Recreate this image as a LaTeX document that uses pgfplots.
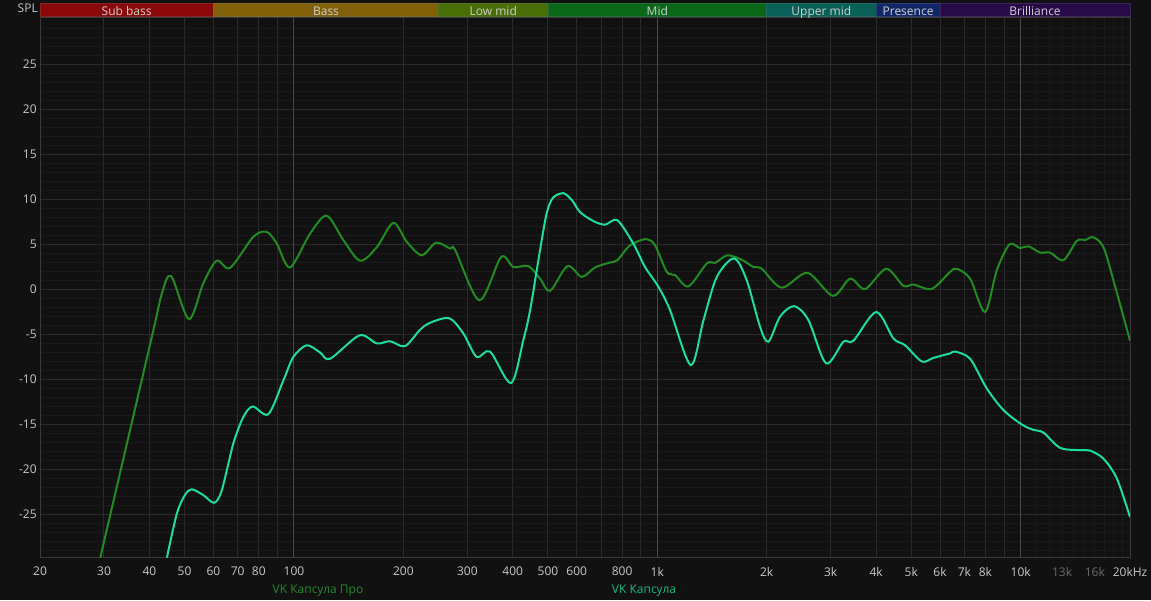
\documentclass[border=0pt]{standalone}
\usepackage{fontspec}
\setmainfont{Open Sans}
\usepackage{pgfplots}
\pgfplotsset{compat=1.18}
\definecolor{bg}{HTML}{111111}
\definecolor{gridmaj}{HTML}{2B2B2B}
\definecolor{gridmin}{HTML}{1A1A1A}
\definecolor{griddec}{HTML}{4A4A4A}
\definecolor{frame}{HTML}{3A3A3A}
\definecolor{txt}{HTML}{C8C8C8}
\definecolor{txtdim}{HTML}{6A6A6A}
\definecolor{bandtxt}{HTML}{D0D0D0}
\definecolor{pro}{HTML}{228B22}
\definecolor{kaps}{HTML}{1CDCA0}
\definecolor{prolab}{HTML}{1F8A2A}
\definecolor{kapslab}{HTML}{18B888}
\definecolor{bSub}{HTML}{8B0808}
\definecolor{bBass}{HTML}{806008}
\definecolor{bLow}{HTML}{486E08}
\definecolor{bMid}{HTML}{086818}
\definecolor{bUpp}{HTML}{086058}
\definecolor{bPre}{HTML}{102868}
\definecolor{bBri}{HTML}{280A48}

\pgfplotstableread{
f dB
29.3 -29.8
40.6 -5.3
43.3 -0.45
45.9 1.5
51.4 -3.3
56.3 0.7
61.3 3.2
66.7 2.4
77.3 5.85
84.1 6.4
89.7 5.1
97.5 2.45
110.7 6.2
123 8.2
136.7 5.5
152 3.2
169 4.7
187.7 7.4
204.4 5.3
224.7 3.8
246 5.2
269 4.55
277.6 4.4
323.8 -1.2
371.5 3.6
401.6 2.5
441.7 2.6
475.7 1.2
506.8 -0.15
565.6 2.6
619.7 1.4
674 2.45
741 3.0
776 3.25
841 4.9
931 5.6
986 4.9
1062 1.95
1119 1.6
1218 0.35
1369 2.9
1442 2.95
1559 3.8
1708 3.3
1838 2.5
1939 2.3
2201 0.2
2588 1.85
3041 -0.7
3394 1.2
3733 0.05
4264 2.3
4757 0.4
5068 0.55
5695 0.07
6396 1.96
6674 2.3
7258 1.2
7982 -2.5
8598 2.15
9312 5.0
9966 4.6
10504 4.8
11312 4.1
12052 4.1
13112 3.25
14278 5.4
15050 5.5
15860 5.8
16902 4.7
18008 1.0
20000 -5.7
}\pro

\pgfplotstableread{
f dB
44.7 -29.8
47.6 -24.9
50.1 -22.85
52.3 -22.2
56.3 -22.85
60.3 -23.7
63.3 -22.3
68.1 -17.1
72.6 -14.15
77.0 -13.0
85.0 -13.85
93.5 -10.1
99.6 -7.5
108.4 -6.2
118 -7.0
125.7 -7.7
151.4 -5.1
169 -6.0
183.8 -5.75
202 -6.3
222 -4.5
237 -3.7
267.7 -3.2
292.6 -4.9
318.4 -7.5
346.5 -6.9
395.8 -10.4
427.9 -5.6
446.6 -2.3
475.7 4.4
496.2 8.5
516.5 10.2
551.3 10.7
582.6 9.9
613 8.6
666.8 7.6
718.4 7.2
776 7.7
859 5.1
925 2.5
1007 0.3
1084 -2.3
1236 -8.4
1340 -3.4
1458 1.4
1627 3.45
1763 1.0
1918 -4.15
2022 -5.8
2178 -3.0
2380 -1.85
2605 -3.4
2914 -8.2
3252 -5.8
3465 -5.7
4002 -2.5
4466 -5.45
4808 -6.2
5346 -8.0
5752 -7.6
6396 -7.1
6604 -6.9
7258 -7.7
8070 -11.0
8966 -13.4
10074 -15.0
10843 -15.6
11553 -15.9
12843 -17.6
14584 -17.85
15534 -17.9
16902 -18.8
18399 -21.0
20000 -25.3
}\kaps

\begin{document}
\begin{tikzpicture}[font=\fontsize{9}{10}\selectfont]
\useasboundingbox (0,0) rectangle (863.25pt,450pt);
\fill[bg] (0,0) rectangle (863.25pt,450pt);
\begin{axis}[
  at={(30pt,31.875pt)}, anchor=south west,
  scale only axis, width=817.5pt, height=405pt,
  xmode=log, xmin=20, xmax=20000, ymin=-29.78, ymax=30.22,
  clip mode=individual,
  axis line style={draw=frame, line width=0.75pt},
  major tick length=0pt, minor tick length=0pt,
  xtick={20,30,40,50,60,70,80,90,200,300,400,500,600,700,800,900,2000,3000,4000,5000,6000,7000,8000,9000,20000},
  xticklabels={20,30,40,50,60,70,80,,200,300,400,500,600,,800,,2k,3k,4k,5k,6k,7k,8k,,20kHz},
  extra x ticks={100,1000,10000},
  extra x tick labels={100,1k,10k},
  extra x tick style={major grid style={draw=griddec, line width=0.75pt}},
  minor xtick={11000,12000,13000,14000,15000,16000,17000,18000,19000},
  ytick={-25,-20,-15,-10,-5,0,5,10,15,20,25},
  yticklabels={-25,-20,-15,-10,-5,0,5,10,15,20,25},
  minor ytick={-29,-28,-27,-26,-24,-23,-22,-21,-19,-18,-17,-16,-14,-13,-12,-11,-9,-8,-7,-6,-4,-3,-2,-1,1,2,3,4,6,7,8,9,11,12,13,14,16,17,18,19,21,22,23,24,26,27,28,29},
  xmajorgrids, ymajorgrids, xminorgrids, yminorgrids,
  major grid style={draw=gridmaj, line width=0.75pt},
  minor grid style={draw=gridmin, line width=0.6pt},
  tick label style={text=txt, font=\fontsize{9}{10}\selectfont},
  xticklabel style={yshift=-3.6pt},
  yticklabel style={xshift=1pt},
]
\addplot[pro, line width=1.5pt, smooth] table[x=f, y=dB] {\pro};
\addplot[kaps, line width=1.5pt, smooth] table[x=f, y=dB] {\kaps};
\draw[draw=bSub!75!gray, fill=bSub, line width=0.6pt] (axis cs:20,30.33) rectangle (axis cs:60,31.78);
\draw[draw=bBass!75!gray, fill=bBass, line width=0.6pt] (axis cs:60,30.33) rectangle (axis cs:250,31.78);
\draw[draw=bLow!75!gray, fill=bLow, line width=0.6pt] (axis cs:250,30.33) rectangle (axis cs:500,31.78);
\draw[draw=bMid!75!gray, fill=bMid, line width=0.6pt] (axis cs:500,30.33) rectangle (axis cs:2000,31.78);
\draw[draw=bUpp!75!gray, fill=bUpp, line width=0.6pt] (axis cs:2000,30.33) rectangle (axis cs:4000,31.78);
\draw[draw=bPre!75!gray, fill=bPre, line width=0.6pt] (axis cs:4000,30.33) rectangle (axis cs:6000,31.78);
\draw[draw=bBri!75!gray, fill=bBri, line width=0.6pt] (axis cs:6000,30.33) rectangle (axis cs:20000,31.78);
\node[text=bandtxt, inner sep=0pt, anchor=base] at (axis cs:34.64,30.45) {Sub bass};
\node[text=bandtxt, inner sep=0pt, anchor=base] at (axis cs:122.5,30.45) {Bass};
\node[text=bandtxt, inner sep=0pt, anchor=base] at (axis cs:353.6,30.45) {Low mid};
\node[text=bandtxt, inner sep=0pt, anchor=base] at (axis cs:1000,30.45) {Mid};
\node[text=bandtxt, inner sep=0pt, anchor=base] at (axis cs:2828,30.45) {Upper mid};
\node[text=bandtxt, inner sep=0pt, anchor=base] at (axis cs:4899,30.45) {Presence};
\node[text=bandtxt, inner sep=0pt, anchor=base] at (axis cs:10954,30.45) {Brilliance};
\node[text=txtdim, anchor=north, yshift=-3.6pt] at (axis cs:13000,-29.78) {13k};
\node[text=txtdim, anchor=north, yshift=-3.6pt] at (axis cs:16000,-29.78) {16k};
\end{axis}
\node[text=txt, anchor=east, inner sep=0pt] at (28.5pt,443.7pt) {SPL};
\node[text=prolab, inner sep=0pt, anchor=base] at (238.5pt,4.6pt) {VK Капсула Про};
\node[text=kapslab, inner sep=0pt, anchor=base] at (483pt,4.6pt) {VK Капсула};
\end{tikzpicture}
\end{document}
